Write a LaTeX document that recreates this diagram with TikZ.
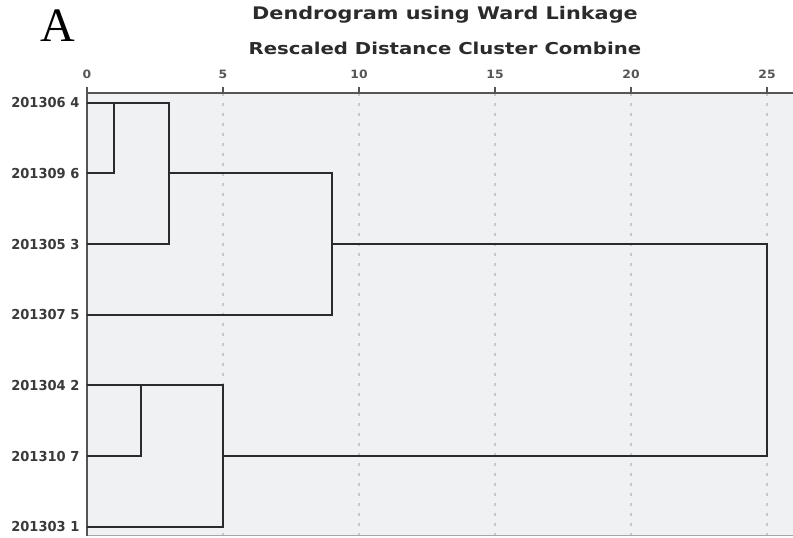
\documentclass[tikz,border=0pt]{standalone}
\usepackage{fontspec}
\usepackage{xcolor}
\setmainfont{Liberation Serif}
\newfontfamily\leaffont[FakeStretch=0.95]{DejaVu Sans}
\newfontfamily\headfont[FakeStretch=1.2]{DejaVu Sans}
\newfontfamily\tickfont[FakeStretch=1.08]{DejaVu Sans}
\definecolor{plotbg}{HTML}{F0F1F3}
\definecolor{linkgray}{HTML}{2B2B2B}
\definecolor{leafgray}{HTML}{3A3A3A}
\definecolor{gridgray}{HTML}{C8C8C8}
\definecolor{axisgray}{HTML}{555555}
\tikzset{
  link/.style={draw=linkgray, line width=1.5pt},
  gridline/.style={draw=gridgray, line width=1.1pt, dash pattern=on 2.25pt off 5.25pt},
  axisline/.style={draw=axisgray, line width=1.1pt},
  leaflabel/.style={anchor=east, inner sep=0pt, text=leafgray, font=\leaffont\bfseries\fontsize{10.3pt}{12pt}\selectfont},
  ticklabel/.style={inner sep=0pt, text=axisgray, font=\tickfont\bfseries\fontsize{8.6pt}{9pt}\selectfont},
  headline/.style={inner sep=0pt, text=linkgray, font=\headfont\bfseries\fontsize{13pt}{15pt}\selectfont},
  subline/.style={inner sep=0pt, text=linkgray, font=\headfont\bfseries\fontsize{12.3pt}{14pt}\selectfont}
}
\begin{document}
\begin{tikzpicture}[x=20.4pt, y=-53pt]
\useasboundingbox (-3.199,-0.4532) rectangle (25.956,7.1597);

% panel letter and titles
\node[inner sep=0pt, font=\fontsize{36pt}{40pt}\selectfont] (panel) at (-1.066,-0.085) {A};
\node[headline] (title) at (13.16,-0.241) {Dendrogram using Ward Linkage};
\node[subline] (subtitle) at (13.16,0.226) {Rescaled Distance Cluster Combine};

% plot area
\fill[plotbg] (0,0.8627) rectangle (25.956,7.131);
\foreach \k in {5,10,...,25}
  \draw[gridline] (\k,0.8627) -- (\k,7.131);
\draw[draw=gray!70, line width=0.8pt] (0,7.131) -- (25.956,7.131);
\draw[axisline] (0,0.8627) -- (25.956,0.8627);
\draw[axisline] (0,0.8627) -- (0,7.131);
\foreach \k in {0,5,...,25} {
  \draw[axisline] (\k,0.7736) -- (\k,0.8627);
  \node[ticklabel] (t\k) at (\k,0.595) {\k};
}

% leaves
\foreach \r/\name in {1/201306 4, 2/201309 6, 3/201305 3, 4/201307 5,
                      5/201304 2, 6/201310 7, 7/201303 1} {
  \coordinate (l\r) at (0,\r);
  \node[leaflabel] (lab\r) at (-0.27,\r) {\name};
}

% merge points
\coordinate (m1a) at (1,1);
\coordinate (m1b) at (1,2);
\coordinate (m3a) at (3,1);
\coordinate (m3b) at (3,3);
\coordinate (m3c) at (3,2);
\coordinate (m9a) at (9,2);
\coordinate (m9b) at (9,4);
\coordinate (m9c) at (9,3);
\coordinate (m2a) at (2,5);
\coordinate (m2b) at (2,6);
\coordinate (m5a) at (5,5);
\coordinate (m5b) at (5,7);
\coordinate (m5c) at (5,6);
\coordinate (m25a) at (25,3);
\coordinate (m25b) at (25,6);

% links
\draw[link] (l2) -- (m1b) -- (m1a);
\draw[link] (l1) -- (m3a) -- (m3b) -- (l3);
\draw[link] (m3c) -- (m9a) -- (m9b) -- (l4);
\draw[link] (l6) -- (m2b) -- (m2a);
\draw[link] (l5) -- (m5a) -- (m5b) -- (l7);
\draw[link] (m9c) -- (m25a) -- (m25b) -- (m5c);
\end{tikzpicture}
\end{document}
